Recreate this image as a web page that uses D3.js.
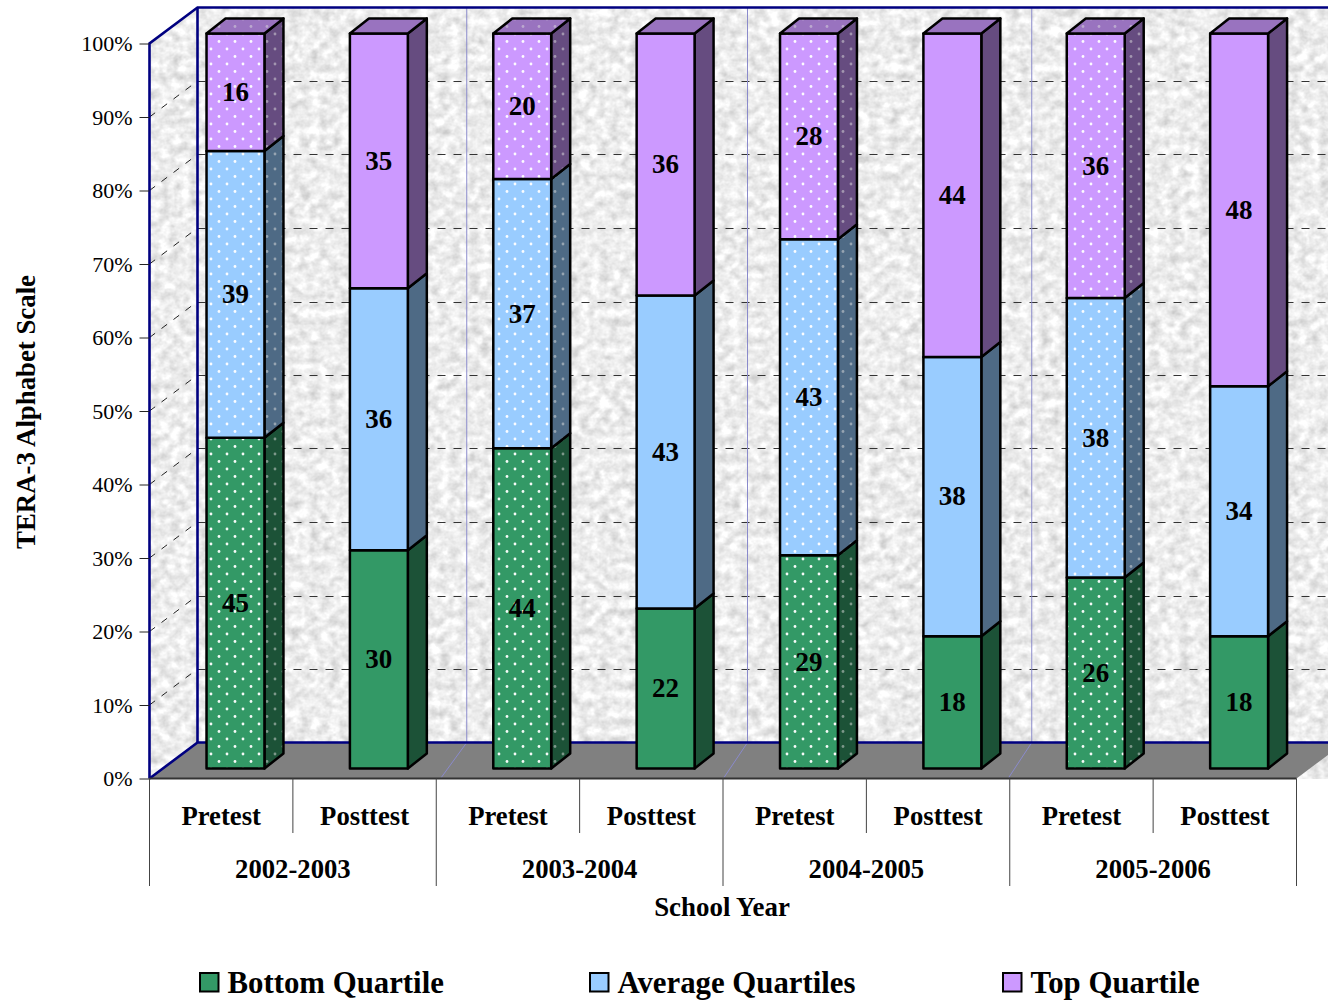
<!DOCTYPE html>
<html>
<head>
<meta charset="utf-8">
<title>TERA-3 Alphabet Scale by School Year</title>
<script src="https://cdn.jsdelivr.net/npm/d3@7/dist/d3.min.js"></script>
<style>
  html, body { margin: 0; padding: 0; background: #fff; }
  svg { display: block; }
  text { font-family: "Liberation Serif", "Times New Roman", serif; fill: #000; }
  .bold { font-weight: 700; }
</style>
</head>
<body>
<svg id="chart" width="1328" height="1002"></svg>
<script>
// Percent of students in each quartile band, per testing session.
const schoolYears = ["2002-2003", "2003-2004", "2004-2005", "2005-2006"];
const sessions = ["Pretest", "Posttest"];
const bottomQuartile  = [45, 30, 44, 22, 29, 18, 26, 18];
const averageQuartiles = [39, 36, 37, 43, 43, 38, 38, 34];
const topQuartile     = [16, 35, 20, 36, 28, 44, 36, 48];
const seriesNames = ["Bottom Quartile", "Average Quartiles", "Top Quartile"];
const yTicks = [0, .1, .2, .3, .4, .5, .6, .7, .8, .9, 1];

const faceColors = ["#339966", "#99ccff", "#cc99ff"];
const sideColors = ["#1c5237", "#4e6a85", "#664c80"];
const roofColors = ["#267350", "#7399bf", "#9973bf"];

const W = 1328;
const plot = { left: 149.5, right: 1296.5, bottom: 778.5, top: 43.5 };
const wall = { dx: 48, dy: -36 };        // offset from the front plane to the back wall
const barShift = { dx: 14.3, dy: -10 };  // offset of bar fronts inside the floor
const barDepth = { dx: 19, dy: -15 };
const dividerLean = [[5, 30.5], [1, 24.5], [-1, 22]]; // floor-start and wall offsets of the year dividers

const svg = d3.select("#chart");
const defs = svg.append("defs");

const categories = schoolYears.flatMap(y => sessions.map(s => y + "|" + s));
const rows = categories.map((c, i) => ({
  key: c,
  [seriesNames[0]]: bottomQuartile[i],
  [seriesNames[1]]: averageQuartiles[i],
  [seriesNames[2]]: topQuartile[i]
}));

const x = d3.scaleBand().domain(categories).range([plot.left, plot.right])
  .paddingInner(0.596).paddingOuter(0.298);
const y = d3.scaleLinear().domain([0, 1]).range([plot.bottom, plot.top]);
const stacked = d3.stack().keys(seriesNames).offset(d3.stackOffsetExpand)(rows);

// Mottled stone texture for the walls.
const stone = defs.append("filter").attr("id", "stone")
  .attr("x", 0).attr("y", 0).attr("width", "100%").attr("height", "100%")
  .attr("color-interpolation-filters", "sRGB");
stone.append("feTurbulence").attr("type", "fractalNoise")
  .attr("baseFrequency", "0.1 0.11").attr("numOctaves", 3).attr("seed", 11);
stone.append("feColorMatrix").attr("type", "matrix")
  .attr("values", "0.6 0.4 0 0 0  0.6 0.4 0 0 0  0.6 0.4 0 0 0  0 0 0 0 1");
const transfer = stone.append("feComponentTransfer");
["feFuncR", "feFuncG", "feFuncB"].forEach(fn => {
  transfer.append(fn).attr("type", "linear").attr("slope", 0.42).attr("intercept", 0.72);
});

// Dotted fills used by the pretest bars.
function dotPattern(id, base, dot, opacity) {
  const p = defs.append("pattern").attr("id", id)
    .attr("patternUnits", "userSpaceOnUse").attr("width", 16).attr("height", 15);
  p.append("rect").attr("width", 16).attr("height", 15).attr("fill", base);
  [[3, 4], [11, 11.5]].forEach(([cx, cy]) => {
    p.append("circle").attr("cx", cx).attr("cy", cy).attr("r", 1.4)
      .attr("fill", dot).attr("opacity", opacity);
  });
}
faceColors.forEach((c, i) => {
  dotPattern("face" + i, c, "#fff", 0.95);
  dotPattern("side" + i, sideColors[i], "#ddd", 0.5);
  dotPattern("roof" + i, roofColors[i], "#ddd", 0.5);
});

const pts = a => a.map(p => p.join(",")).join(" ");

const scene = svg.append("g");

// Walls
scene.append("rect")
  .attr("x", plot.left).attr("y", plot.top + wall.dy)
  .attr("width", W - plot.left).attr("height", plot.bottom - plot.top - wall.dy)
  .attr("filter", "url(#stone)");
// Blank out the corner above the left wall.
scene.append("polygon").attr("fill", "#fff")
  .attr("points", pts([[plot.left - 1, plot.top + wall.dy - 1], [plot.left + wall.dx, plot.top + wall.dy - 1],
                       [plot.left + wall.dx, plot.top + wall.dy], [plot.left - 1, plot.top + 0.5]]));

// Gridlines on both walls
const grid = scene.append("g");
grid.selectAll("line.back").data(yTicks.slice(1, -1)).join("line")
  .attr("class", "back")
  .attr("x1", plot.left + wall.dx).attr("x2", W)
  .attr("y1", d => Math.round(y(d) + wall.dy) + .5).attr("y2", d => Math.round(y(d) + wall.dy) + .5)
  .attr("stroke", "#333").attr("stroke-width", 1).attr("stroke-dasharray", "8 8");
grid.selectAll("line.side").data(yTicks.slice(1, -1)).join("line")
  .attr("class", "side")
  .attr("x1", plot.left).attr("x2", plot.left + wall.dx)
  .attr("y1", d => y(d)).attr("y2", d => y(d) + wall.dy)
  .attr("stroke", "#222").attr("stroke-width", 1).attr("stroke-dasharray", "7 8");

// Floor
scene.append("polygon").attr("fill", "#808080")
  .attr("points", pts([[plot.left, plot.bottom], [plot.left + wall.dx, plot.bottom + wall.dy],
                       [plot.right + wall.dx, plot.bottom + wall.dy], [plot.right, plot.bottom]]));

// Thin year dividers running up the back wall and across the floor
const yearEdges = schoolYears.slice(1).map((_, i) => plot.left + (i + 1) * 2 * x.step());
scene.append("g").attr("fill", "none").attr("stroke", "#8a8acb").attr("stroke-width", 1)
  .selectAll("path").data(yearEdges).join("path")
  .attr("d", (d, i) => `M${d + dividerLean[i][0]},${plot.bottom - 1}L${d + dividerLean[i][1]},${plot.bottom + wall.dy}V${plot.top + wall.dy}`);

// Navy frame of the walls
const frame = scene.append("g").attr("fill", "none").attr("stroke", "#000080").attr("stroke-width", 2.6);
frame.append("path").attr("d", `M${plot.left},${plot.bottom}V${plot.top}L${plot.left + wall.dx},${plot.top + wall.dy}H${W}`);
frame.append("path").attr("d", `M${plot.left},${plot.bottom}L${plot.left + wall.dx},${plot.bottom + wall.dy}H${W}`);
frame.append("path").attr("d", `M${plot.left + wall.dx},${plot.top + wall.dy}V${plot.bottom + wall.dy}`);

// Stacked bars
const bars = scene.append("g").attr("stroke", "#000").attr("stroke-width", 2.5).attr("stroke-linejoin", "round");
categories.forEach((cat, i) => {
  const left = x(cat) + barShift.dx;
  const right = left + x.bandwidth();
  const dotted = sessions[i % 2] === "Pretest";
  const g = bars.append("g");
  stacked.forEach((layer, s) => {
    const lo = y(layer[i][0]) + barShift.dy;
    const hi = y(layer[i][1]) + barShift.dy;
    g.append("polygon")
      .attr("points", pts([[right, lo], [right + barDepth.dx, lo + barDepth.dy],
                           [right + barDepth.dx, hi + barDepth.dy], [right, hi]]))
      .attr("fill", dotted ? `url(#side${s})` : sideColors[s]);
    g.append("rect")
      .attr("x", left).attr("y", hi)
      .attr("width", x.bandwidth()).attr("height", lo - hi)
      .attr("fill", dotted ? `url(#face${s})` : faceColors[s]);
    if (s === stacked.length - 1) {
      g.append("polygon")
        .attr("points", pts([[left, hi], [left + barDepth.dx, hi + barDepth.dy],
                             [right + barDepth.dx, hi + barDepth.dy], [right, hi]]))
        .attr("fill", dotted ? `url(#roof${s})` : roofColors[s]);
    }
  });
});

// Value labels centred on each segment
const labels = scene.append("g").attr("class", "bold")
  .attr("text-anchor", "middle").attr("font-size", 27);
stacked.forEach(layer => {
  labels.selectAll(null).data(layer).join("text")
    .attr("x", d => x(d.data.key) + barShift.dx + x.bandwidth() / 2)
    .attr("y", d => y((d[0] + d[1]) / 2) + barShift.dy)
    .attr("dy", "0.33em")
    .text(d => d.data[layer.key]);
});

// Percent axis
const yAxis = d3.axisLeft(y).tickValues(yTicks).tickFormat(d3.format(".0%"))
  .tickSize(10).tickPadding(7);
const yG = svg.append("g").attr("transform", `translate(${plot.left},0)`).call(yAxis);
yG.select(".domain").remove();
yG.selectAll("line").attr("stroke", "#222").attr("stroke-width", 1);
yG.selectAll("text").attr("font-size", 22).attr("font-family", '"Liberation Serif"').attr("fill", "#000");

// Two-level category axis
const catAxis = svg.append("g");
catAxis.append("line").attr("x1", plot.left).attr("x2", plot.right)
  .attr("y1", plot.bottom).attr("y2", plot.bottom)
  .attr("stroke", "#333").attr("stroke-width", 2);
catAxis.selectAll("line.tick").data(d3.range(categories.length + 1)).join("line")
  .attr("class", "tick")
  .attr("x1", i => plot.left + i * x.step()).attr("x2", i => plot.left + i * x.step())
  .attr("y1", plot.bottom)
  .attr("y2", i => i % 2 === 0 ? 886 : 833)
  .attr("stroke", "#444").attr("stroke-width", 1);
catAxis.selectAll("text.session").data(categories).join("text")
  .attr("class", "session bold")
  .attr("x", d => x(d) + x.bandwidth() / 2).attr("y", 825)
  .attr("text-anchor", "middle").attr("font-size", 26.7)
  .text(d => d.split("|")[1]);
catAxis.selectAll("text.year").data(schoolYears).join("text")
  .attr("class", "year bold")
  .attr("x", (d, i) => plot.left + (2 * i + 1) * x.step()).attr("y", 878)
  .attr("text-anchor", "middle").attr("font-size", 26.7)
  .text(d => d);

// Axis titles
svg.append("text").attr("class", "bold")
  .attr("x", 722).attr("y", 916).attr("text-anchor", "middle").attr("font-size", 26.9)
  .text("School Year");
svg.append("text").attr("class", "bold")
  .attr("transform", "translate(35,412) rotate(-90)")
  .attr("text-anchor", "middle").attr("font-size", 26.8)
  .text("TERA-3 Alphabet Scale");

// Legend
const legendX = [200, 590, 1003];
const legend = svg.append("g").selectAll("g").data(seriesNames).join("g")
  .attr("transform", (d, i) => `translate(${legendX[i]},973)`);
legend.append("rect").attr("width", 18.5).attr("height", 18.5)
  .attr("fill", (d, i) => faceColors[i]).attr("stroke", "#000").attr("stroke-width", 2);
legend.append("text").attr("class", "bold")
  .attr("x", 27.5).attr("y", 20).attr("font-size", 30.8)
  .text(d => d);
</script>
</body>
</html>
